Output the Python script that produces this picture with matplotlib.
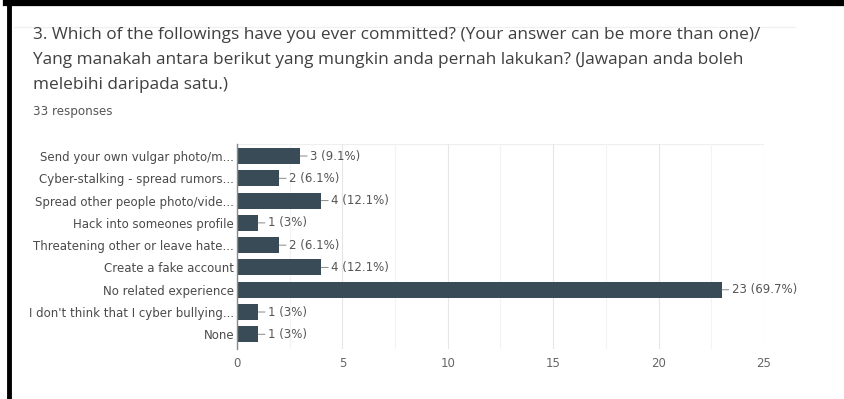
import matplotlib
matplotlib.use("Agg")
import matplotlib.pyplot as plt
from matplotlib.lines import Line2D

categories = [
    "Send your own vulgar photo/m...",
    "Cyber-stalking - spread rumors...",
    "Spread other people photo/vide...",
    "Hack into someones profile",
    "Threatening other or leave hate...",
    "Create a fake account",
    "No related experience",
    "I don't think that I cyber bullying...",
    "None",
]
counts = [3, 2, 4, 1, 2, 4, 23, 1, 1]
value_labels = ["3 (9.1%)", "2 (6.1%)", "4 (12.1%)", "1 (3%)", "2 (6.1%)",
                "4 (12.1%)", "23 (69.7%)", "1 (3%)", "1 (3%)"]
x_ticks = [0, 5, 10, 15, 20, 25]

title_lines = [
    "3. Which of the followings have you ever committed? (Your answer can be more than one)/",
    "Yang manakah antara berikut yang mungkin anda pernah lakukan? (Jawapan anda boleh",
    "melebihi daripada satu.)",
]
subtitle = "33 responses"

W, H = 845, 399
fig = plt.figure(figsize=(W / 100, H / 100), dpi=100)
fig.patch.set_facecolor("white")

# black frame (top and left edges of the screenshot)
fig.add_artist(Line2D([6 / W, 1], [1 - 3 / H, 1 - 3 / H], color="black", lw=4.5,
                      transform=fig.transFigure))
fig.add_artist(Line2D([9 / W, 9 / W], [0, 1 - 3 / H], color="black", lw=3.5,
                      transform=fig.transFigure))
# faint card edge
fig.add_artist(Line2D([14 / W, 795 / W], [1 - 27 / H, 1 - 27 / H], color="#f0f0f0",
                      lw=1, transform=fig.transFigure))

title_font = ["Open Sans", "DejaVu Sans"]
for i, line in enumerate(title_lines):
    fig.text(33 / W, 1 - (35 + 25 * i) / H, line, fontsize=12.4, color="#404040",
             family=title_font, va="center", ha="left")
fig.text(33 / W, 1 - 111 / H, subtitle, fontsize=8.6, color="#555555",
         family=["DejaVu Sans"], va="center", ha="left")

left, right = 237 / W, 764 / W
top, bottom = 1 - 144 / H, 1 - 349 / H
ax = fig.add_axes([left, bottom, right - left, top - bottom])

small = ["DejaVu Sans"]
fs = 8.5

ypos = list(range(len(categories)))
ax.barh(ypos, counts, height=0.72, color="#394b57", zorder=3)
ax.set_xlim(0, 25)
ax.set_ylim(len(categories) - 1 + 0.66, -0.54)

ax.set_yticks(ypos)
ax.set_yticklabels(categories, fontsize=fs, color="#4a4a4a", family=small)
ax.set_xticks(x_ticks)
ax.set_xticklabels([str(t) for t in x_ticks], fontsize=fs, color="#666666", family=small)
ax.set_xticks([2.5, 7.5, 12.5, 17.5, 22.5], minor=True)
ax.tick_params(axis="both", which="both", length=0, pad=2)
ax.tick_params(axis="x", which="both", pad=6)

ax.grid(axis="x", which="major", color="#e6e6e6", lw=0.8, zorder=0)
ax.grid(axis="x", which="minor", color="#f3f3f3", lw=0.8, zorder=0)
for s in ["top", "right", "bottom"]:
    ax.spines[s].set_visible(False)
ax.spines["left"].set_color("#8a8a8a")
ax.spines["left"].set_linewidth(1)
ax.spines["left"].set_zorder(4)
ax.plot([0, 25], [ax.get_ylim()[1]] * 2, color="#eeeeee", lw=0.8, zorder=0)

for y, c, lab in zip(ypos, counts, value_labels):
    ax.annotate(lab, xy=(c, y), xytext=(7, 0), textcoords="offset points",
                va="center", ha="left", fontsize=fs, color="#555555",
                family=small,
                arrowprops=dict(arrowstyle="-", color="#888888", lw=0.7,
                                shrinkA=0, shrinkB=0))

fig.savefig("out.png", dpi=100, facecolor="white")
